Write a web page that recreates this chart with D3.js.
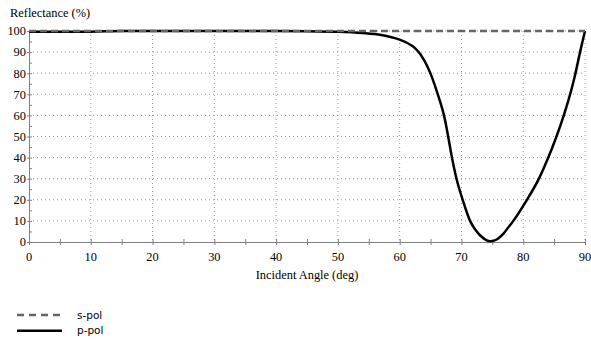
<!DOCTYPE html>
<html>
<head>
<meta charset="utf-8">
<script src="https://cdn.jsdelivr.net/npm/d3@7"></script>
<style>
  body { margin: 0; background: #fff; }
  svg { display: block; }
</style>
</head>
<body>
<svg id="chart" width="591" height="343"></svg>
<script>
// angle (deg) and p-pol reflectance (%)
const pAngle = [0, 5, 10, 15, 20, 25, 30, 35, 40, 45, 50, 54, 57, 60, 62, 63, 64, 65, 66, 67, 67.5, 68, 68.5, 69.2, 70.2, 71.4, 72.2, 73, 74, 74.7, 75.7, 76.8, 77.6, 78.4, 80.6, 82.4, 84.6, 86, 87.3, 88.3, 89.2, 90];
const pRefl = [99.7, 99.7, 99.7, 100, 100, 100, 100, 100, 100, 99.9, 99.6, 99.0, 98.1, 95.9, 93, 90.3, 86, 79.8, 71.5, 62, 55.5, 47.5, 39.5, 30, 20, 10, 6, 3.2, 0.9, 0.3, 1.2, 4, 7, 10, 20, 29.2, 44, 55, 67, 78, 90, 100];
const sAngle = [0, 90];
const sRefl = [100, 100];
const xTicks = [0, 10, 20, 30, 40, 50, 60, 70, 80, 90];
const yTicks = [0, 10, 20, 30, 40, 50, 60, 70, 80, 90, 100];
const seriesNames = ['s-pol', 'p-pol'];

const serif = '"Times New Roman", "Liberation Serif", Times, serif';
const sans = '"DejaVu Sans", Verdana, sans-serif';
const fontSize = '12.4px';

const margin = { top: 31, right: 6, bottom: 101, left: 29 };
const width = 591 - margin.left - margin.right;
const height = 343 - margin.top - margin.bottom;

const svg = d3.select('#chart');
const g = svg.append('g').attr('transform', 'translate(' + margin.left + ',' + margin.top + ')');

const x = d3.scaleLinear().domain([0, 90]).range([0, width]);
const y = d3.scaleLinear().domain([0, 100]).range([height, 0]);

// dotted grid
g.append('g')
  .selectAll('line')
  .data(xTicks.slice(1))
  .enter()
  .append('line')
  .attr('x1', (d) => x(d)).attr('x2', (d) => x(d))
  .attr('y1', 0).attr('y2', height)
  .attr('stroke', '#999').attr('stroke-dasharray', '1,3');
g.append('g')
  .selectAll('line')
  .data(yTicks.slice(1))
  .enter()
  .append('line')
  .attr('x1', 0).attr('x2', width)
  .attr('y1', (d) => y(d)).attr('y2', (d) => y(d))
  .attr('stroke', '#999').attr('stroke-dasharray', '1,3');

// axes
const xAxis = g.append('g')
  .attr('transform', 'translate(0,' + height + ')')
  .call(d3.axisBottom(x).tickValues(d3.range(0, 91, 5)).tickSize(3).tickFormat(''));
xAxis.selectAll('.tick line').attr('y1', -3).attr('y2', 3);
xAxis.append('g')
  .selectAll('text')
  .data(xTicks)
  .enter()
  .append('text')
  .style('font-family', serif)
  .style('font-size', fontSize)
  .attr('fill', '#000')
  .attr('x', (d) => x(d))
  .attr('y', 19)
  .attr('text-anchor', 'middle')
  .text((d) => d);

const yAxis = g.append('g')
  .call(d3.axisLeft(y).tickValues(d3.range(0, 101, 5)).tickSize(0).tickFormat(''));
yAxis.selectAll('.tick line').attr('x1', (d) => (d % 10 === 0 ? -2 : 0)).attr('x2', 3);
yAxis.append('g')
  .selectAll('text')
  .data(yTicks)
  .enter()
  .append('text')
  .style('font-family', serif)
  .style('font-size', fontSize)
  .attr('fill', '#000')
  .attr('x', -3)
  .attr('y', (d) => y(d))
  .attr('dy', '0.35em')
  .attr('text-anchor', 'end')
  .text((d) => d);

[xAxis, yAxis].forEach((a) => {
  a.select('.domain').attr('stroke', '#808080');
  a.selectAll('.tick line').attr('stroke', '#808080');
});

// curves
const line = d3.line()
  .x((d) => x(d[0]))
  .y((d) => y(d[1]))
  .curve(d3.curveCatmullRom.alpha(0.5));

g.append('path')
  .datum(pAngle.map((a, i) => [a, pRefl[i]]))
  .attr('fill', 'none')
  .attr('stroke', '#000')
  .attr('stroke-width', 2.5)
  .attr('d', line);

g.append('path')
  .datum(sAngle.map((a, i) => [a, sRefl[i]]))
  .attr('fill', 'none')
  .attr('stroke', '#666')
  .attr('stroke-width', 2.5)
  .attr('stroke-dasharray', '7,4')
  .attr('d', line);

// titles
svg.append('text')
  .style('font-family', serif)
  .style('font-size', fontSize)
  .attr('x', 10)
  .attr('y', 17)
  .text('Reflectance (%)');
svg.append('text')
  .style('font-family', serif)
  .style('font-size', fontSize)
  .attr('x', margin.left + width / 2)
  .attr('y', 279)
  .attr('text-anchor', 'middle')
  .text('Incident Angle (deg)');

// legend
const legend = svg.selectAll('.legend')
  .data(seriesNames)
  .enter()
  .append('g')
  .attr('class', 'legend')
  .attr('transform', (_, i) => 'translate(17,' + (315 + i * 15.7) + ')');
legend.append('line')
  .attr('x1', 0).attr('x2', 45)
  .attr('stroke', (d) => (d === 's-pol' ? '#666' : '#000'))
  .attr('stroke-width', 2.5)
  .attr('stroke-dasharray', (d) => (d === 's-pol' ? '7,5' : null));
legend.append('text')
  .style('font-family', sans)
  .style('font-size', '10.5px')
  .attr('x', 60)
  .attr('dy', '0.35em')
  .text((d) => d);
</script>
</body>
</html>
